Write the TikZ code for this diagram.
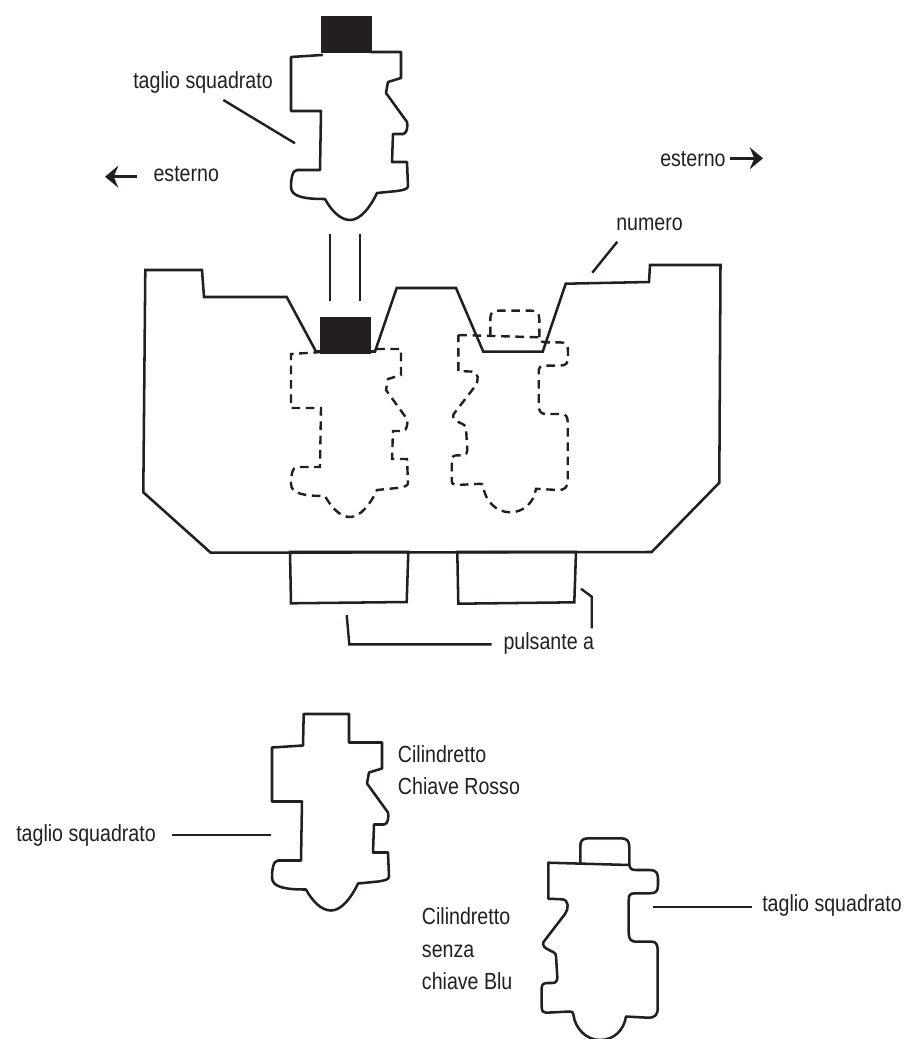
\documentclass[tikz,border=0pt]{standalone}
\usepackage{fontspec}
\setmainfont{Liberation Sans}[FakeStretch=0.84]
\usetikzlibrary{arrows.meta}
\definecolor{ink}{HTML}{231F20}
\tikzset{
  keyline/.style={draw=ink,line width=1.9pt,line join=round,line cap=round},
  dashline/.style={draw=ink,line width=1.8pt,line join=miter,dash pattern=on 6.5pt off 4.2pt},
  leader/.style={draw=ink,line width=1.8pt},
  pointer/.style={draw=ink,line width=2pt,-{Stealth[length=10pt,width=16.5pt,inset=3.5pt]}},
  label/.style={inner sep=0pt,anchor=base west,text=ink,font=\fontsize{17.5}{19}\selectfont},
  solidblock/.style={fill=ink,draw=none}
}
\newcommand{\rotorA}{(322,55) -- (291,57) -- (291,111) -- (321,111) -- (320,170) -- (297,170)
  .. controls (292,170) and (291,180) .. (291,187) .. controls (291,197) and (305,199) .. (325,199)
  .. controls (331,210) and (340,220) .. (350,220) .. controls (360,220) and (370,208) .. (377,193)
  -- (397,191) .. controls (404,190) and (408,189) .. (408,186) -- (407,162) -- (392,162) -- (393,134)
  -- (403,134) .. controls (407,134) and (408,126) .. (407,122) -- (386,93) -- (388,82) -- (401,78)
  -- (401,52) -- (371,52)}
\newcommand{\rotorB}{(548.3,862.7) -- (629.3,865) .. controls (630,869) and (632,870) .. (636,870) -- (650,870)
  .. controls (656,870) and (658,873) .. (658,879) -- (658,885) .. controls (658,891) and (656,893.3) .. (650,893.3)
  -- (635,893.3) .. controls (630,893.3) and (628.7,895) .. (628.7,900) -- (628.7,933)
  .. controls (628.7,939) and (631,941.7) .. (636,941.7) -- (652,941.7) .. controls (656,941.7) and (657.7,945) .. (657.7,950)
  -- (657.7,1008) .. controls (657.7,1015) and (655,1017.7) .. (648,1017.7) -- (626,1016.5)
  .. controls (624,1030) and (614,1040) .. (600,1040) .. controls (586,1040) and (575,1028) .. (573.5,1015)
  .. controls (573.5,1012) and (572,1011.5) .. (570,1011.5)
  -- (546,1012.7) .. controls (543,1012.7) and (541.7,1011) .. (541.7,1007) -- (541.7,988)
  .. controls (541.7,984) and (544,983) .. (548,983) -- (552,983) .. controls (556,983) and (557.3,981) .. (557.3,977)
  -- (556,956) .. controls (556,953) and (553,952) .. (549,950) .. controls (545,948) and (542,946) .. (543.5,942)
  -- (565,914) .. controls (569,909) and (569,899.5) .. (562,899.3) -- (548.3,898.7) -- cycle}
\newcommand{\rotorBtab}{(580.3,863) -- (580.3,846) .. controls (580.3,840) and (583,838.3) .. (589,838.3)
  -- (621,838.3) .. controls (627,838.3) and (629.3,841) .. (629.3,847) -- (629.3,865)}
\begin{document}
\begin{tikzpicture}[x=0.75pt,y=-0.75pt]
\useasboundingbox (0,0) rectangle (907,1039);

% top key
\path[solidblock] (321,16) rectangle (371.5,53);
\draw[keyline] \rotorA;
% housing
\draw[keyline,line cap=butt,line join=miter] (145.3,270) -- (202,270) -- (204,297) -- (286.7,297) -- (316,351.5) -- (375,351.5) -- (396.7,288) -- (456,288) -- (483.3,351.7) -- (542.7,351.7) -- (565.7,283.7) -- (649,282) -- (650,265) -- (720.5,265) -- (719.3,482.7) -- (651.7,552) -- (210.7,552.7) -- (143.3,492.3) -- cycle;
% dashed keys
\begin{scope}[shift={(0,297)}]
  \draw[dashline] \rotorA;
\end{scope}
\path[solidblock] (320,316.7) rectangle (370.7,354.3);
\begin{scope}[shift={(-90,-527.7)}]
  \draw[dashline] \rotorB;
  \draw[dashline] \rotorBtab;
\end{scope}
% buttons
\draw[keyline,line join=miter,line cap=butt] (290,552) -- (291,603.3) -- (406.7,602) -- (408.3,552) -- cycle;
\draw[keyline,line join=miter,line cap=butt] (457.3,552) -- (458.3,603.7) -- (574.3,602.3) -- (576,552) -- cycle;
% lower keys
\begin{scope}[shift={(-19,690.5)}]
  \draw[keyline] \rotorA -- (368,52) -- (368,23.5) -- (322.7,23.5) -- cycle;
\end{scope}
\begin{scope}
  \clip (0,0) rectangle (907,1039);
  \draw[keyline] \rotorB;
  \draw[keyline] \rotorBtab;
\end{scope}

% labels
\node[label] (t1) at (133,88) {taglio squadrato};
\node[label] (e1) at (153.3,181.7) {esterno};
\node[label] (e2) at (660,166) {esterno};
\node[label] (n1) at (616,230.7) {numero};
\node[label] (p1) at (503.3,649.5) {pulsante a};
\node[label] (c1) at (397.7,762.7) {Cilindretto};
\node[label] (c2) at (397.7,794.7) {Chiave Rosso};
\node[label] (t2) at (16,841.5) {taglio squadrato};
\node[label] (c3) at (421.7,924.7) {Cilindretto};
\node[label] (c4) at (421.7,957.3) {senza};
\node[label] (c5) at (421.7,989.3) {chiave Blu};
\node[label] (t3) at (762,911) {taglio squadrato};

% leaders
\coordinate (a1) at (223.3,100); \coordinate (a2) at (295,143.3);
\draw[leader] (a1) -- (a2);
\coordinate (v1) at (329.7,234.3); \coordinate (v2) at (329.7,301);
\coordinate (v3) at (360,234.3); \coordinate (v4) at (360,301);
\draw[leader] (v1) -- (v2);
\draw[leader] (v3) -- (v4);
\coordinate (n2) at (617.3,241.7); \coordinate (n3) at (592.3,272.7);
\draw[leader] (n2) -- (n3);
\coordinate (p2) at (346.7,615); \coordinate (p3) at (349.3,644.3); \coordinate (p4) at (491.7,644.3);
\draw[leader,line join=miter] (p2) -- (p3) -- (p4);
\coordinate (p5) at (581,588.7); \coordinate (p6) at (591.7,596.7); \coordinate (p7) at (591.7,628.3);
\draw[leader,line join=miter] (p5) -- (p6) -- (p7);
\coordinate (l1) at (172,835); \coordinate (l2) at (271,835);
\draw[leader] (l1) -- (l2);
\coordinate (r1) at (652.7,906.7); \coordinate (r2) at (752,906.7);
\draw[leader] (r1) -- (r2);
% arrows
\coordinate (ar1) at (137,176.7); \coordinate (ar2) at (105,176.7);
\draw[pointer] (ar1) -- (ar2);
\coordinate (ar3) at (730,158.3); \coordinate (ar4) at (763,158.3);
\draw[pointer] (ar3) -- (ar4);
\end{tikzpicture}
\end{document}
